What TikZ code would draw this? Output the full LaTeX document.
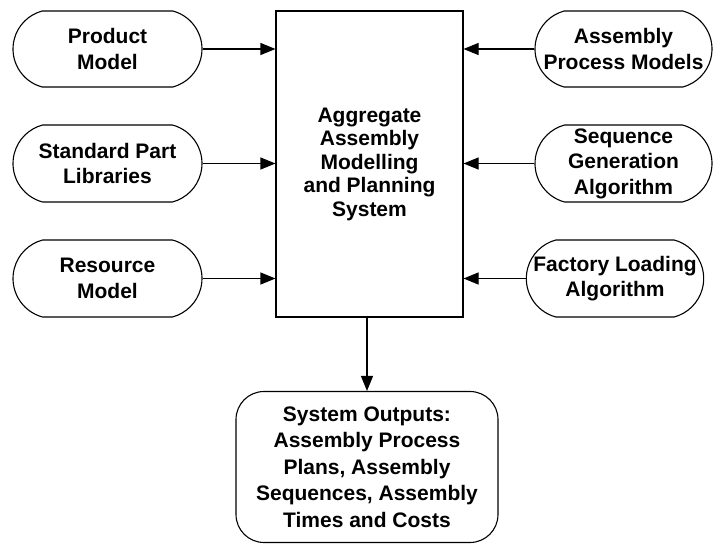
\documentclass[tikz,border=0pt]{standalone}
\usepackage{fontspec}
\setmainfont{Liberation Sans}
\usetikzlibrary{arrows.meta,shapes.misc}
\tikzset{
    pill/.style={draw=black, line width=1.1pt, rounded rectangle, rounded rectangle arc length=150,
        align=center, inner sep=0pt, font=\bfseries\fontsize{21}{25.5}\selectfont},
    sysbox/.style={draw=black, line width=1.1pt, rectangle, align=center, inner sep=0pt,
        font=\bfseries\fontsize{21}{23.5}\selectfont},
    outbox/.style={draw=black, line width=1.1pt, rectangle, rounded corners=28pt, align=center,
        inner sep=0pt, font=\bfseries\fontsize{21}{26.5}\selectfont},
    feed/.style={black, line width=1.1pt, -{Triangle[length=15pt,width=12pt]}}
}
\begin{document}
\begin{tikzpicture}[x=1pt, y=-1pt]
    \useasboundingbox (0,0) rectangle (713,544);
    \node[sysbox, minimum width=187pt, minimum height=306pt] (sys) at (369.5,164)
        {Aggregate\\Assembly\\Modelling\\and Planning\\System};
    \node[pill, minimum width=189pt, minimum height=76pt] (prod) at (107.5,49) {Product\\Model};
    \node[pill, minimum width=189pt, minimum height=77pt] (std) at (107.5,163.5) {Standard Part\\Libraries};
    \node[pill, minimum width=189pt, minimum height=77pt] (res) at (107.5,278.5) {Resource\\Model};
    \node[pill, minimum width=177pt, minimum height=76pt] (apm) at (623.5,49) {Assembly\\Process Models};
    \node[pill, minimum width=177pt, minimum height=77pt] (seq) at (623.5,163.5) {Sequence\\Generation\\Algorithm};
    \node[pill, minimum width=174pt, minimum height=77pt] (fla) at (615,278.5) {Factory Loading\\Algorithm};
    \node[outbox, minimum width=262pt, minimum height=151pt] (out) at (367,467)
        {System Outputs:\\Assembly Process\\Plans, Assembly\\Sequences, Assembly\\Times and Costs};
    \draw[feed] (prod.east) -- (prod.east -| sys.west);
    \draw[feed] (std.east) -- (std.east -| sys.west);
    \draw[feed] (res.east) -- (res.east -| sys.west);
    \draw[feed] (apm.west) -- (apm.west -| sys.east);
    \draw[feed] (seq.west) -- (seq.west -| sys.east);
    \draw[feed] (fla.west) -- (fla.west -| sys.east);
    \draw[feed] (out.north |- sys.south) -- (out.north);
\end{tikzpicture}
\end{document}
